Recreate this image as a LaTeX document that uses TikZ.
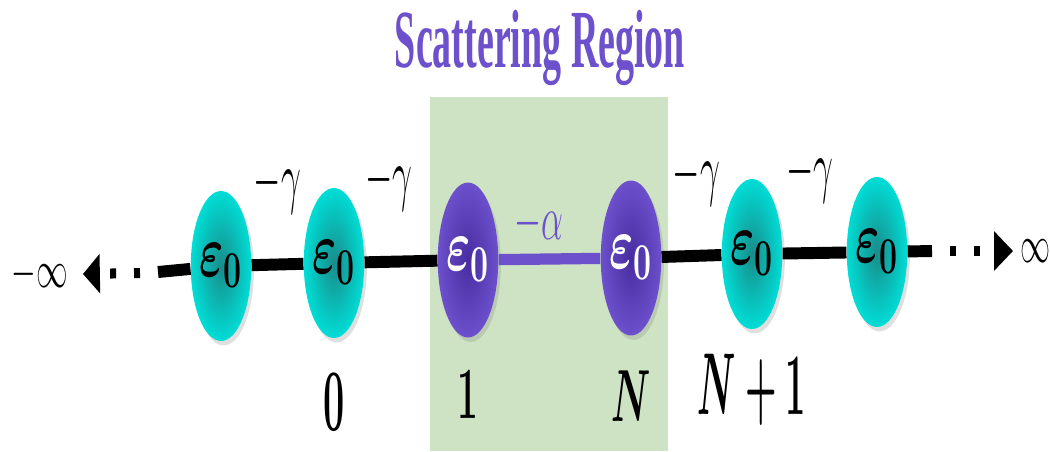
\RequirePackage{fix-cm}
\documentclass[tikz,border=0pt]{standalone}
\usepackage{amsmath}
\usepackage{graphicx}
\usepackage{fontspec}
\newfontfamily\titlefont{Liberation Serif}
\usepackage{tikz}
\usetikzlibrary{shapes.geometric}
\usetikzlibrary{arrows.meta,positioning,shadows}

\definecolor{leadcyan}{RGB}{0,221,214}
\definecolor{leaddark}{RGB}{25,140,138}
\definecolor{scatpurple}{RGB}{108,80,204}
\definecolor{scatdark}{RGB}{72,44,160}
\definecolor{regiongreen}{RGB}{206,227,196}

\newcommand{\squeezed}[2]{\scalebox{#1}[1]{#2}}

\begin{document}
\begin{tikzpicture}[
    x=0.02cm, y=-0.02cm,
    site/.style={
        ellipse,
        inner sep=0pt,
        minimum width=1.14cm,
        minimum height=3cm,
        font=\boldmath\fontsize{42}{46}\selectfont,
        drop shadow={shadow xshift=1.5pt, shadow yshift=-2.5pt, opacity=0.25}
    },
    lead/.style={site, inner color=leaddark, outer color=leadcyan},
    scat/.style={site, inner color=scatdark, outer color=scatpurple, text=white, minimum height=3.1cm},
    region/.style={
        rectangle,
        fill=regiongreen,
        minimum width=4.76cm,
        minimum height=7.08cm
    },
    chain/.style={line width=6.8pt},
    bond/.style={line width=6.4pt, scatpurple},
    tail/.style={line width=5.7pt, dash pattern=on 3.4pt off 10.2pt},
    hop/.style={inner sep=0pt, yshift=1.55cm, font=\fontsize{40}{44}\selectfont},
    idx/.style={inner sep=0pt, font=\boldmath\fontsize{42}{46}\selectfont},
    bigidx/.style={idx, font=\boldmath\fontsize{50}{54}\selectfont},
    inf/.style={inner sep=0pt, font=\fontsize{30}{34}\selectfont}
]
\useasboundingbox (0,0) rectangle (1050,451);

% ==========================================================
% SCATTERING REGION
% ==========================================================
\node[region] (scat) at (549,274) {};
\node[above=0.22cm of scat, xshift=-0.18cm, inner sep=0pt, text=scatpurple,
      font=\titlefont\bfseries\fontsize{47}{50}\selectfont] (title)
      {\squeezed{0.46}{Scattering Region}};

% ==========================================================
% SITES
% ==========================================================
\node[lead] (A) at (221,266) {\squeezed{0.62}{$\varepsilon_0$}};
\node[lead] (B) at (334,263) {\squeezed{0.62}{$\varepsilon_0$}};
\node[scat] (P1) at (468,260) {\squeezed{0.62}{$\varepsilon_0$}};
\node[scat] (P2) at (631,258) {\squeezed{0.62}{$\varepsilon_0$}};
\node[lead] (C) at (752,254) {\squeezed{0.62}{$\varepsilon_0$}};
\node[lead] (D) at (877,252) {\squeezed{0.62}{$\varepsilon_0$}};

% ==========================================================
% LEAD ENDS
% ==========================================================
\coordinate (la) at (158,272);
\coordinate (ldot) at (140,273);
\coordinate (ltip) at (83,274);
\coordinate (ra) at (932,251);
\coordinate (rdot) at (950,251);
\coordinate (rtip) at (1013,251);

\node[inf, left=0.3cm of ltip] (minf) {\squeezed{0.6}{$-\infty$}};
\node[inf, right=0.14cm of rtip] (pinf) {\squeezed{0.57}{$\infty$}};

% ==========================================================
% CONNECTIONS
% ==========================================================
\draw[chain] (la) -- (A)
    -- node[hop] {\squeezed{0.5}{$-\gamma$}} (B)
    -- node[hop, pos=0.33] {\squeezed{0.5}{$-\gamma$}} (P1);

\draw[bond] (P1) -- node[pos=0.4, inner sep=0pt, yshift=0.7cm, text=scatpurple,
    font=\fontsize{36}{40}\selectfont] {\squeezed{0.55}{$-\alpha$}} (P2);

\draw[chain] (P2)
    -- node[hop, pos=0.58] {\squeezed{0.5}{$-\gamma$}} (C)
    -- node[hop, pos=0.43] {\squeezed{0.5}{$-\gamma$}} (D)
    -- (ra);

% dotted tails
\draw[tail, -{Triangle[length=9.6pt, width=22pt]}] (ldot) -- (ltip);
\draw[tail, -{Triangle[length=10.8pt, width=22pt]}] (rdot) -- (rtip);

% ==========================================================
% SITE INDICES
% ==========================================================
\node[bigidx, below=0.7cm of B] (i0) {\squeezed{0.43}{$0$}};
\node[idx, below=0.66cm of P1] (i1) {\squeezed{0.5}{$1$}};
\node[idx, below=0.7cm of P2] (iN) {\squeezed{0.5}{$N$}};
\node[bigidx, below=0.5cm of C] (iN1) {\squeezed{0.41}{$N+1$}};

\end{tikzpicture}
\end{document}
